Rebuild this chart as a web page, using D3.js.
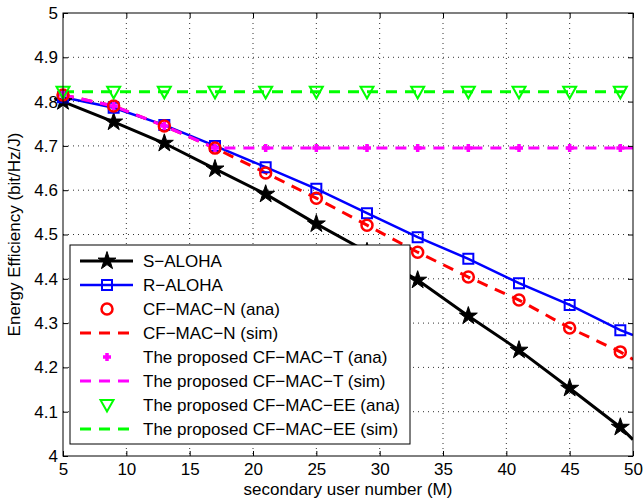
<!DOCTYPE html>
<html>
<head>
<meta charset="utf-8">
<script src="https://cdn.jsdelivr.net/npm/d3@7"></script>
<style>
  body { margin: 0; background: #fff; }
  svg { font-family: "Liberation Sans", Arial, sans-serif; }
</style>
</head>
<body>
<div id="chart"></div>
<script>
// marker positions (secondary user number)
var users = [5, 9, 13, 17, 21, 25, 29, 33, 37, 41, 45, 49, 50];
var sAloha = [4.80, 4.754, 4.706, 4.648, 4.591, 4.524, 4.461, 4.397, 4.316, 4.239, 4.153, 4.065, 4.037];
var rAloha = [4.81, 4.786, 4.747, 4.700, 4.652, 4.603, 4.548, 4.494, 4.445, 4.390, 4.341, 4.284, 4.273];
var cfN = [4.815, 4.790, 4.745, 4.695, 4.639, 4.582, 4.521, 4.460, 4.404, 4.352, 4.289, 4.235, 4.218];
var cfT = [4.815, 4.790, 4.745, 4.695, 4.695, 4.695, 4.695, 4.695, 4.695, 4.695, 4.695, 4.695, 4.695];
var cfEE = [4.822, 4.822, 4.822, 4.822, 4.822, 4.822, 4.822, 4.822, 4.822, 4.822, 4.822, 4.822, 4.822];

var xTicks = [5, 10, 15, 20, 25, 30, 35, 40, 45, 50];
var yTicks = [4, 4.1, 4.2, 4.3, 4.4, 4.5, 4.6, 4.7, 4.8, 4.9, 5];

var legendLabels = [
  "S\u2212ALOHA",
  "R\u2212ALOHA",
  "CF\u2212MAC\u2212N (ana)",
  "CF\u2212MAC\u2212N (sim)",
  "The proposed CF\u2212MAC\u2212T (ana)",
  "The proposed CF\u2212MAC\u2212T (sim)",
  "The proposed CF\u2212MAC\u2212EE (ana)",
  "The proposed CF\u2212MAC\u2212EE (sim)"
];

var width = 643, height = 502;
var margins = { top: 13, right: 10, bottom: 46, left: 63 };
var chartWidth = width - margins.left - margins.right;
var chartHeight = height - margins.top - margins.bottom;
var fontSize = "17px";

var x = d3.scaleLinear().domain([5, 50]).range([0, chartWidth]);
var y = d3.scaleLinear().domain([4, 5]).range([chartHeight, 0]);

var svg = d3.select("#chart").append("svg")
  .attr("width", width)
  .attr("height", height);

var g = svg.append("g")
  .attr("transform", "translate(" + margins.left + "," + margins.top + ")");

// grid
g.selectAll(".gx").data(xTicks.slice(1, -1)).join("line")
  .attr("x1", d => x(d)).attr("x2", d => x(d))
  .attr("y1", 0).attr("y2", chartHeight)
  .style("stroke", "#333").style("stroke-width", 1).style("stroke-dasharray", "1,4");
g.selectAll(".gy").data(yTicks.slice(1, -1)).join("line")
  .attr("x1", 0).attr("x2", chartWidth)
  .attr("y1", d => y(d)).attr("y2", d => y(d))
  .style("stroke", "#333").style("stroke-width", 1).style("stroke-dasharray", "1,4");

// clip for data
svg.append("clipPath").attr("id", "clip").append("rect")
  .attr("x", 0).attr("y", 0).attr("width", chartWidth).attr("height", chartHeight);

var plot = g.append("g").attr("clip-path", "url(#clip)");

var line = d3.line().x(d => x(d[0])).y(d => y(d[1]));
function pts(vals) { return users.map((u, i) => [u, vals[i]]); }
function markerPts(vals) { return pts(vals).filter(d => d[0] !== 50); }

var star = d3.symbol().type(d3.symbolStar).size(100)();
var square = "M-5,-5H5V5H-5Z";
var triDown = "M-6.5,-5H6.5L0,6.5Z";
var plus = "M-4,0H4M0,-4V4";

var series = [
  { vals: sAloha, color: "#000", width: 3, dash: null, marker: star, fill: "#000", mw: 1 },
  { vals: rAloha, color: "#0000ff", width: 2.5, dash: null, marker: square, fill: "none", mw: 2 },
  { vals: cfN, color: "#ff0000", width: 0, dash: null, marker: "circle", fill: "none", mw: 2.5 },
  { vals: cfN, color: "#ff0000", width: 3, dash: "11,8", marker: null },
  { vals: cfT, color: "#ff00ff", width: 0, dash: null, marker: plus, fill: "none", mw: 3.5 },
  { vals: cfT, color: "#ff00ff", width: 3, dash: "11,8", marker: null },
  { vals: cfEE, color: "#00ff00", width: 0, dash: null, marker: triDown, fill: "none", mw: 2 },
  { vals: cfEE, color: "#00ff00", width: 3, dash: "11,8", marker: null }
];

function drawMarker(sel, s) {
  if (s.marker === "circle") {
    sel.append("circle").attr("r", 5.5)
      .style("fill", "none").style("stroke", s.color).style("stroke-width", s.mw);
  } else {
    sel.append("path").attr("d", s.marker)
      .style("fill", s.fill).style("stroke", s.color).style("stroke-width", s.mw);
  }
}

series.forEach(function(s) {
  if (s.width > 0) {
    plot.append("path")
      .attr("d", line(pts(s.vals)))
      .style("fill", "none")
      .style("stroke", s.color)
      .style("stroke-width", s.width)
      .style("stroke-dasharray", s.dash);
  }
  if (s.marker) {
    markerPts(s.vals).forEach(function(d) {
      var m = g.append("g").attr("transform", "translate(" + x(d[0]) + "," + y(d[1]) + ")");
      drawMarker(m, s);
    });
  }
});

// axes box and ticks (inside, all sides)
g.append("rect").attr("width", chartWidth).attr("height", chartHeight)
  .style("fill", "none").style("stroke", "#000").style("stroke-width", 1);

var xAxis = g.append("g").attr("transform", "translate(0," + chartHeight + ")")
  .call(d3.axisBottom(x).tickValues(xTicks).tickSizeInner(-5).tickSizeOuter(0).tickPadding(7));
var xAxisTop = g.append("g")
  .call(d3.axisTop(x).tickValues(xTicks).tickSizeInner(-5).tickSizeOuter(0).tickFormat(""));
var yAxis = g.append("g")
  .call(d3.axisLeft(y).tickValues(yTicks).tickSizeInner(-5).tickSizeOuter(0).tickPadding(5).tickFormat(d3.format("")));
var yAxisR = g.append("g").attr("transform", "translate(" + chartWidth + ",0)")
  .call(d3.axisRight(y).tickValues(yTicks).tickSizeInner(-5).tickSizeOuter(0).tickFormat(""));

[xAxis, xAxisTop, yAxis, yAxisR].forEach(function(a) {
  a.select(".domain").remove();
  a.selectAll("text").style("font-size", fontSize).style("font-family", "Liberation Sans, Arial, sans-serif").style("fill", "#000");
  a.selectAll("line").style("stroke", "#000");
});

// axis labels
svg.append("text")
  .attr("x", margins.left + chartWidth / 2)
  .attr("y", 495)
  .style("text-anchor", "middle")
  .style("font-size", fontSize)
  .text("secondary user number (M)");

svg.append("text")
  .attr("transform", "translate(20," + (margins.top + chartHeight / 2) + ") rotate(-90)")
  .style("text-anchor", "middle")
  .style("font-size", fontSize)
  .text("Energy Efficiency (bit/Hz/J)");

// legend
var legend = svg.append("g").attr("transform", "translate(70,245)");
legend.append("rect").attr("width", 340).attr("height", 199)
  .style("fill", "#fff").style("stroke", "#000").style("stroke-width", 1);

legendLabels.forEach(function(label, i) {
  var s = series[i];
  var row = legend.append("g").attr("transform", "translate(0," + (16 + i * 24) + ")");
  if (s.width > 0) {
    row.append("line").attr("x1", 10).attr("x2", 63).attr("y1", 0).attr("y2", 0)
      .style("stroke", s.color).style("stroke-width", s.width)
      .style("stroke-dasharray", s.dash);
  }
  if (s.marker) {
    var m = row.append("g").attr("transform", "translate(37,0)");
    drawMarker(m, s);
  }
  row.append("text").attr("x", 73).attr("y", 6)
    .style("font-size", fontSize)
    .text(label);
});
</script>
</body>
</html>
